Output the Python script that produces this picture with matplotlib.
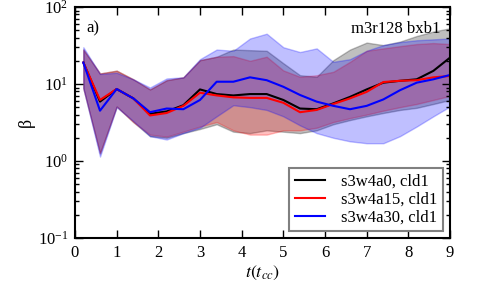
import matplotlib
matplotlib.use("Agg")
import matplotlib.pyplot as plt
import numpy as np

plt.rcParams["font.family"] = ["Liberation Serif", "DejaVu Serif"]
plt.rcParams["mathtext.fontset"] = "stix"

# time (t_cc)
t = [0.2, 0.6, 1.0, 1.4, 1.8, 2.2, 2.6, 3.0, 3.4, 3.8, 4.2, 4.6,
     5.0, 5.4, 5.8, 6.2, 6.6, 7.0, 7.4, 7.8, 8.2, 8.6, 9.0]

# s3w4a0
black_mid = [19, 5.9, 8.6, 6.5, 4.1, 4.4, 5.3, 8.5, 7.4, 7.1, 7.4, 7.4,
             6.2, 4.8, 4.7, 5.6, 6.8, 8.5, 10.4, 11.0, 11.5, 14.8, 22]
black_hi = [28, 13.7, 14.9, 11.5, 8.5, 11.2, 12.2, 20.4, 22.6, 28, 27.5, 27,
            18.6, 13, 12.4, 20.4, 28, 34.5, 32, 35.5, 42, 48, 53]
black_lo = [8.8, 1.26, 5.1, 3.2, 2.1, 2.0, 2.3, 2.6, 3.0, 2.4, 2.3, 2.5,
            2.4, 2.3, 2.5, 3.0, 3.4, 3.8, 4.2, 4.6, 4.9, 5.5, 6.2]

# s3w4a15
red_mid = [19, 6.2, 8.6, 6.5, 3.9, 4.2, 5.2, 7.7, 7.1, 6.7, 6.6, 6.6,
           5.7, 4.3, 4.6, 5.5, 6.5, 7.9, 10.6, 11.0, 11.2, 12.2, 12.7]
red_hi = [28, 13.7, 14.9, 11.5, 8.5, 11.2, 12.2, 20.4, 22.6, 23, 20, 22.6,
          15, 12.4, 13, 14.4, 19.4, 27, 29, 31, 33, 34, 33]
red_lo = [8.8, 1.26, 5.1, 3.2, 2.2, 2.07, 2.4, 2.8, 3.2, 2.5, 2.2, 2.2,
          2.5, 2.5, 2.7, 3.2, 3.6, 4.0, 4.5, 5.0, 5.5, 6.2, 7.0]

# s3w4a30
blue_mid = [19, 4.5, 8.6, 6.5, 4.3, 4.8, 4.7, 6.2, 10.7, 10.7, 12.2, 11.2,
            9.2, 7.2, 5.9, 5.2, 4.7, 5.2, 6.3, 8.3, 10.4, 11.5, 13.1]
blue_hi = [30, 13.5, 14, 11.5, 9, 11.8, 12.2, 21, 28, 27, 39, 45,
           30, 26, 29, 19.4, 21, 27, 32, 35, 37, 38, 39]
blue_lo = [8.8, 1.14, 5.0, 3.3, 2.1, 1.9, 2.3, 2.7, 3.8, 5.3, 5.0, 4.6,
           3.8, 2.9, 2.3, 2.0, 1.8, 1.7, 1.7, 2.1, 2.8, 3.8, 5.1]

labels = ["s3w4a0, cld1", "s3w4a15, cld1", "s3w4a30, cld1"]
colors = ["black", "red", "blue"]

fig = plt.figure(figsize=(5.01, 2.86), dpi=100)
ax = fig.add_axes([0.1497, 0.168, 0.7485, 0.8075])

bands = [(black_lo, black_hi), (red_lo, red_hi), (blue_lo, blue_hi)]
for (lo, hi), c in zip(bands, colors):
    ax.fill_between(t, lo, hi, facecolor=c, edgecolor=c, alpha=0.25, linewidth=1.0)

for mid, c, lab in zip([black_mid, red_mid, blue_mid], colors, labels):
    ax.plot(t, mid, color=c, lw=1.5, label=lab)

ax.set_yscale("log")
ax.set_xlim(0, 9)
ax.set_ylim(0.1, 100)
ax.set_xticks(range(10))

ax.tick_params(which="both", direction="in", top=True, right=True, labelsize=12)
ax.tick_params(which="major", length=6, width=1.0, pad=5)
ax.tick_params(which="minor", length=3, width=1.0)
for s in ax.spines.values():
    s.set_linewidth(1.5)

ax.set_xlabel(r"$t(t_{cc})$", fontsize=13, labelpad=2)
ax.set_ylabel("β", fontsize=13, labelpad=2)

ax.text(0.03, 0.94, "a)", transform=ax.transAxes, fontsize=12, va="top", ha="left")
ax.text(0.975, 0.94, "m3r128 bxb1", transform=ax.transAxes, fontsize=12, va="top", ha="right")

leg = ax.legend(loc="lower right", fontsize=12, fancybox=False, handlelength=1.8,
                handletextpad=1.0, borderpad=0.35, labelspacing=0.1, framealpha=1,
                borderaxespad=0.4)
leg.get_frame().set_edgecolor("gray")
leg.get_frame().set_linewidth(1.5)

fig.savefig("out.png", dpi=100)
